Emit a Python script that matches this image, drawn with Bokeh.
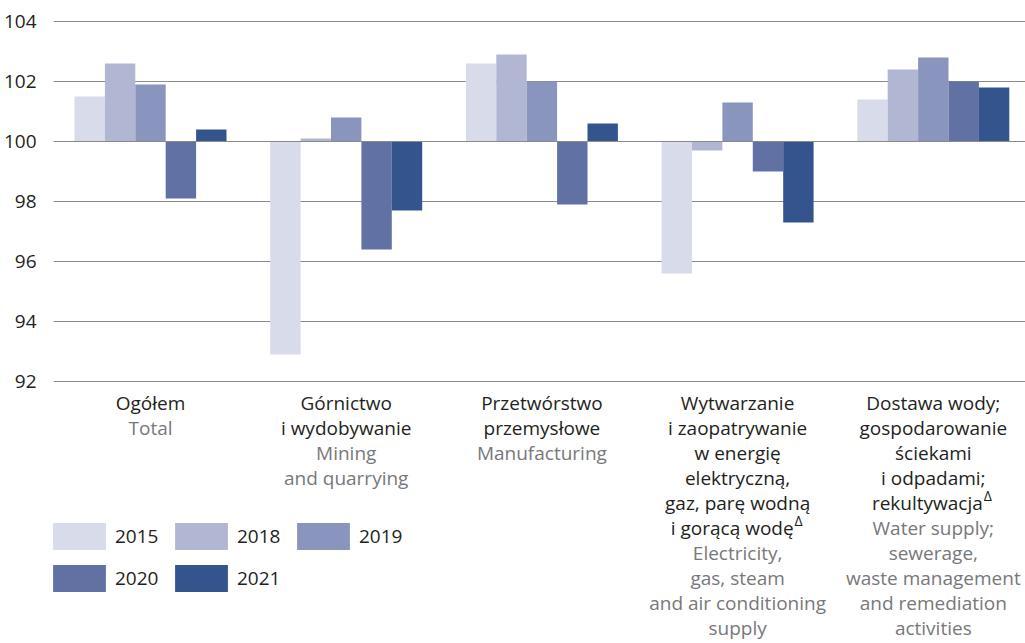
from bokeh.plotting import figure
from bokeh.models import Range1d, FixedTicker, Span, ColumnDataSource, Legend, LegendItem
from bokeh.embed import file_html
from bokeh.resources import INLINE
from bokeh.core.properties import value

# ---------------- data ----------------
categories_pl = [
    ["Ogółem"],
    ["Górnictwo", "i wydobywanie"],
    ["Przetwórstwo", "przemysłowe"],
    ["Wytwarzanie", "i zaopatrywanie", "w energię", "elektryczną,", "gaz, parę wodną", "i gorącą wodę"],
    ["Dostawa wody;", "gospodarowanie", "ściekami", "i odpadami;", "rekultywacja"],
]
categories_en = [
    ["Total"],
    ["Mining", "and quarrying"],
    ["Manufacturing"],
    ["Electricity,", "gas, steam", "and air conditioning", "supply"],
    ["Water supply;", "sewerage,", "waste management", "and remediation", "activities"],
]
delta_mark = [False, False, False, True, True]
years = ["2015", "2018", "2019", "2020", "2021"]
v2015 = [101.5, 92.9, 102.6, 95.6, 101.4]
v2018 = [102.6, 100.1, 102.9, 99.7, 102.4]
v2019 = [101.9, 100.8, 102.0, 101.3, 102.8]
v2020 = [98.1, 96.4, 97.9, 99.0, 102.0]
v2021 = [100.4, 97.7, 100.6, 97.3, 101.8]
series = [v2015, v2018, v2019, v2020, v2021]
y_ticks = [92, 94, 96, 98, 100, 102, 104]
baseline_value = 100

# ---------------- style ----------------
colors = ["#d8dbe9", "#b1b7d3", "#8995bd", "#6171a3", "#33548d"]
FONT = "Open Sans"
TEXT_DARK = "#231f20"
TEXT_GRAY = "#77787b"
GRID = "#8a8a8a"

W, H = 1025, 643
LEFT = 53
PX_X = 195.7     # pixels per category
PX_Y = 30.0      # pixels per unit
x0 = -97.0 / PX_X
x1 = x0 + (W - LEFT) / PX_X
y_top = 104 + 21.0 / PX_Y
y_bot = y_top - H / PX_Y
bar_w = 30.4 / PX_X

p = figure(width=W, height=H, output_backend="svg", toolbar_location=None,
           x_range=Range1d(x0, x1), y_range=Range1d(y_bot, y_top),
           x_axis_location=None, min_border_left=LEFT, min_border_right=0,
           min_border_top=0, min_border_bottom=0)
p.outline_line_color = None
p.background_fill_color = "white"
p.border_fill_color = "white"

p.yaxis.ticker = FixedTicker(ticks=y_ticks)
p.yaxis.axis_line_color = None
p.yaxis.major_tick_line_color = None
p.yaxis.minor_tick_line_color = None
p.yaxis.major_label_standoff = 11
p.yaxis.major_label_text_font = FONT
p.yaxis.major_label_text_font_size = "19px"
p.yaxis.major_label_text_color = TEXT_DARK
p.xgrid.visible = False
p.ygrid.ticker = FixedTicker(ticks=y_ticks)
p.ygrid.grid_line_color = GRID
p.ygrid.grid_line_width = 1

n = len(categories_pl)
renderers = []
for j, (yr, vals) in enumerate(zip(years, series)):
    src = ColumnDataSource(dict(x=[i + (j - 2) * bar_w for i in range(n)],
                                top=vals, bottom=[baseline_value] * n))
    r = p.vbar(x="x", width=bar_w, top="top", bottom="bottom", source=src,
               fill_color=colors[j], line_color=None)
    renderers.append(r)

p.add_layout(Span(location=baseline_value, dimension="width", line_color=GRID, line_width=1))

# ---------------- category labels ----------------
LINE = 25.0
FIRST = 21.0
dark = dict(x=[], y=[], text=[])
gray = dict(x=[], y=[], text=[])
dl_base = dict(x=[], y=[], text=[])
dl_mark = dict(x=[], y=[], text=[])
delta_w = 10.0
est_w = {"i gorącą wodę": 122.0, "rekultywacja": 109.0}
for i in range(n):
    k = 0
    pl = categories_pl[i]
    for li, line in enumerate(pl):
        y = 92 - (FIRST + LINE * k) / PX_Y
        if delta_mark[i] and li == len(pl) - 1:
            w = est_w.get(line, 110.0)
            total = w + delta_w
            right = -total / 2 + w
            dl_base["x"].append(i + right / PX_X)
            dl_base["y"].append(y)
            dl_base["text"].append(line)
            dl_mark["x"].append(i + (right + 1) / PX_X)
            dl_mark["y"].append(y + 7 / PX_Y)
            dl_mark["text"].append("Δ")
        else:
            dark["x"].append(i)
            dark["y"].append(y)
            dark["text"].append(line)
        k += 1
    for line in categories_en[i]:
        y = 92 - (FIRST + LINE * k) / PX_Y
        gray["x"].append(i)
        gray["y"].append(y)
        gray["text"].append(line)
        k += 1

common = dict(text_font=value(FONT), text_baseline="alphabetic")
p.text(x="x", y="y", text="text", source=ColumnDataSource(dark), text_align="center",
       text_color=TEXT_DARK, text_font_size="19px", **common)
p.text(x="x", y="y", text="text", source=ColumnDataSource(gray), text_align="center",
       text_color=TEXT_GRAY, text_font_size="19px", **common)
p.text(x="x", y="y", text="text", source=ColumnDataSource(dl_base), text_align="right",
       text_color=TEXT_DARK, text_font_size="19px", **common)
p.text(x="x", y="y", text="text", source=ColumnDataSource(dl_mark), text_align="left",
       text_color=TEXT_DARK, text_font_size="14px", **common)

# ---------------- legend ----------------
legend = Legend(items=[LegendItem(label=yr, renderers=[r]) for yr, r in zip(years, renderers)],
                location=(-7, 48), orientation="horizontal", ncols=3,
                glyph_width=66, glyph_height=34, label_standoff=3, spacing=8,
                label_width=45, padding=0, margin=0, border_line_color=None,
                background_fill_alpha=0, label_text_font=FONT, label_text_font_size="19px",
                label_text_color=TEXT_DARK)
p.add_layout(legend)

open("out.html", "w").write(file_html(p, INLINE))
